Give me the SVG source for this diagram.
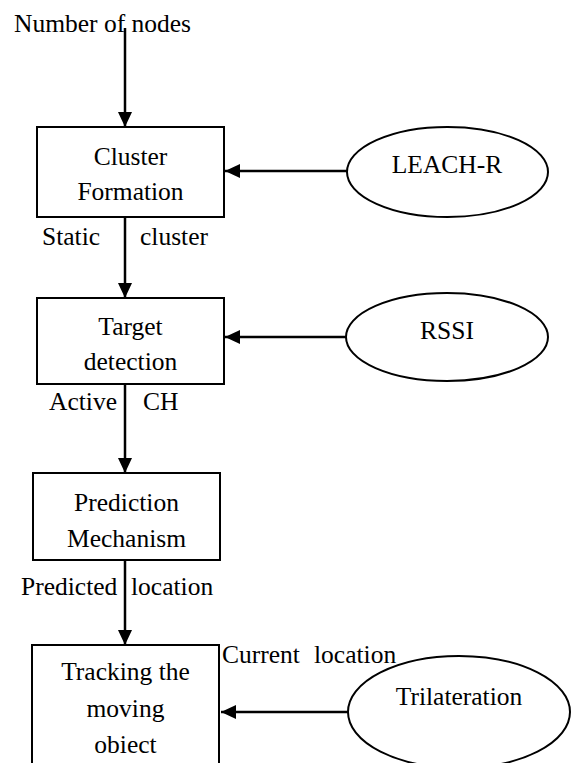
<svg xmlns="http://www.w3.org/2000/svg" width="572" height="763" viewBox="0 0 572 763">
<defs>
<marker id="ah" markerWidth="16" markerHeight="14" refX="15" refY="7" orient="auto" markerUnits="userSpaceOnUse">
<path d="M0,0 L15,7 L0,14 Z" fill="#000"/>
</marker>
<style>
text{font-family:'Liberation Serif','Times New Roman','DejaVu Serif',serif;font-size:25.5px;fill:#000}
.c{text-anchor:middle}
.box{fill:#fff;stroke:#000;stroke-width:2}
.ell{fill:#fff;stroke:#000;stroke-width:2}
.con{stroke:#000;stroke-width:2.5;fill:none;marker-end:url(#ah)}
</style>
</defs>
<rect width="572" height="763" fill="#fff"/>
<g id="connectors">
<line class="con" x1="125" y1="28" x2="125" y2="127"/>
<line class="con" x1="347" y1="171" x2="225" y2="171"/>
<line class="con" x1="125" y1="217" x2="125" y2="298"/>
<line class="con" x1="346" y1="337" x2="225" y2="337"/>
<line class="con" x1="125" y1="384" x2="125" y2="473"/>
<line class="con" x1="125" y1="560" x2="125" y2="645"/>
<line class="con" x1="348" y1="712" x2="221" y2="712"/>
</g>
<g id="labels">
<text x="14" y="32">Number of nodes</text>
<text x="42" y="245">Static</text>
<text x="140" y="245">cluster</text>
<text x="49" y="410">Active</text>
<text x="143" y="410">CH</text>
<text x="21" y="595">Predicted</text>
<text x="131" y="595">location</text>
<text x="222" y="663">Current</text>
<text x="314" y="663">location</text>
</g>
<g id="cluster-formation">
<rect class="box" x="37" y="127" width="187" height="90"/>
<text class="c" x="130.5" y="165">Cluster</text>
<text class="c" x="130.5" y="200">Formation</text>
</g>
<g id="target-detection">
<rect class="box" x="37" y="298" width="187" height="86"/>
<text class="c" x="130.5" y="335">Target</text>
<text class="c" x="130.5" y="370">detection</text>
</g>
<g id="prediction-mechanism">
<rect class="box" x="33" y="473" width="187" height="87"/>
<text class="c" x="126.5" y="511">Prediction</text>
<text class="c" x="126.5" y="547">Mechanism</text>
</g>
<g id="tracking">
<rect class="box" x="32" y="645" width="187" height="130"/>
<text class="c" x="125.5" y="680">Tracking the</text>
<text class="c" x="125.5" y="717">moving</text>
<text class="c" x="125.5" y="753">obiect</text>
</g>
<g id="leach-r">
<ellipse class="ell" cx="447.5" cy="172" rx="100.5" ry="45"/>
<text class="c" x="447" y="173">LEACH-R</text>
</g>
<g id="rssi">
<ellipse class="ell" cx="447" cy="337" rx="101" ry="44"/>
<text class="c" x="447" y="339">RSSI</text>
</g>
<g id="trilateration">
<ellipse class="ell" cx="459" cy="712" rx="111" ry="56"/>
<text class="c" x="459" y="705">Trilateration</text>
</g>
</svg>
